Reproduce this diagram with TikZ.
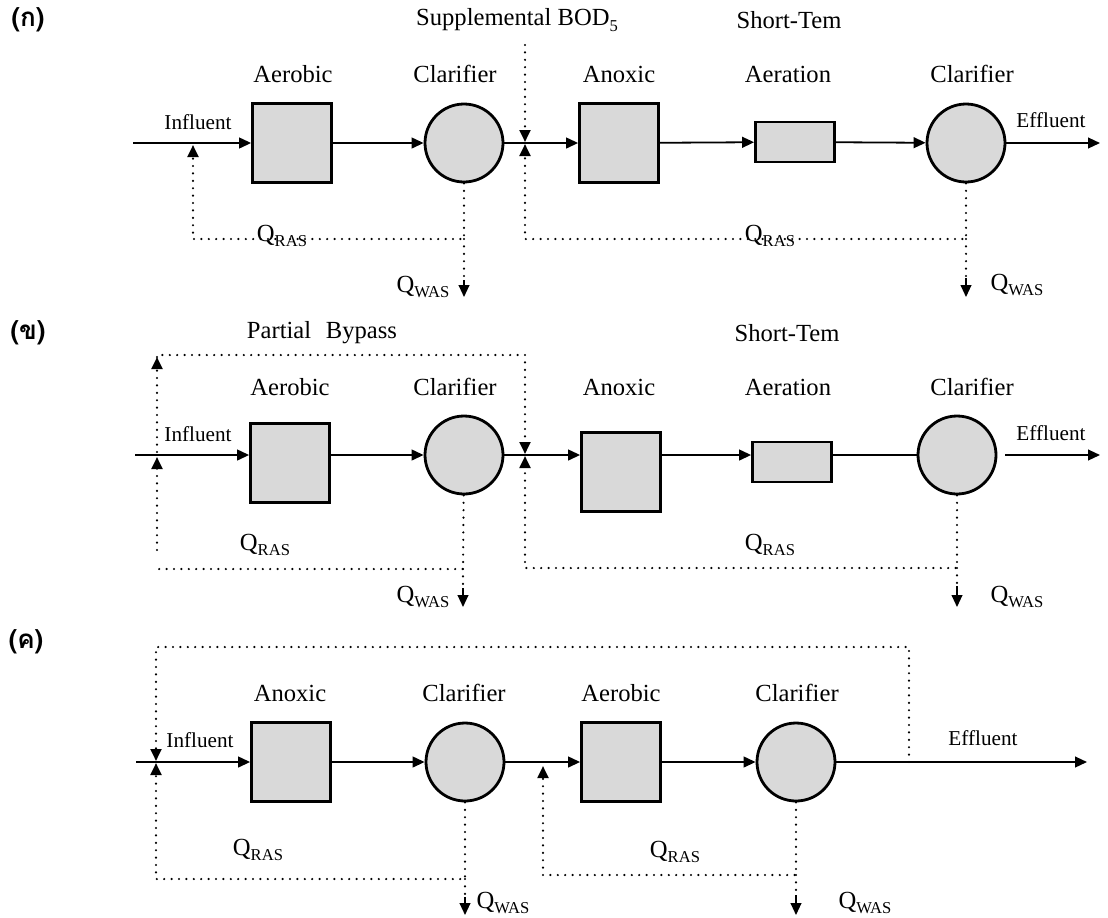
\documentclass[tikz,border=0pt]{standalone}
\usepackage{fontspec}
\setmainfont{Liberation Serif}
\newfontfamily\thaifont[Script=Thai]{Loma}
\usetikzlibrary{arrows.meta}
\newcommand{\qsub}[1]{Q\raisebox{-0.5ex}{\fontsize{8.3}{9}\selectfont #1}}

\begin{document}
\begin{tikzpicture}[x=0.5pt,y=-0.5pt]

\tikzset{line/.style={draw,line width=0.9pt}}
\tikzset{arrow/.style={line,-{Triangle[length=6pt,width=5.4pt]}}}
\tikzset{recycle/.style={draw,line width=1.2pt,line cap=round,dash pattern=on 0pt off 3.7pt}}
\tikzset{recarrow/.style={recycle,-{Triangle[length=6pt,width=5.4pt]}}}
\tikzset{stem/.style={draw,line width=0.8pt,-{Triangle[length=6pt,width=5.4pt]}}}
\tikzset{tank/.style={draw,line width=1.4pt,fill=black!15,inner sep=0pt,minimum width=39.5pt,minimum height=39.5pt}}
\tikzset{settler/.style={tank,circle,minimum size=39pt}}
\tikzset{lbl/.style={font=\fontsize{12.3}{14}\selectfont,inner sep=0pt}}
\tikzset{flow/.style={font=\fontsize{10.6}{12}\selectfont,inner sep=0pt}}
\tikzset{tag/.style={font=\thaifont\bfseries\fontsize{13}{15}\selectfont,inner sep=0pt}}

\useasboundingbox (0,0) rectangle (1108,917);

% (a)
\node[tag] (tag) at (28,20) {(ก)};
\node[lbl] (top1) at (517,20) {Supplemental BOD\raisebox{-0.5ex}{\fontsize{8.3}{9}\selectfont 5}};
\node[lbl] (top2) at (789,20) {Short-Tem};
\node[lbl] (l1) at (293,74) {Aerobic};
\node[lbl] (l2) at (455,74) {Clarifier};
\node[lbl] (l3) at (619,74) {Anoxic};
\node[lbl] (l4) at (788,74) {Aeration};
\node[lbl] (l5) at (972,74) {Clarifier};
\node[flow] (inf) at (198,122) {Influent};
\node[flow] (eff) at (1051,120) {Effluent};

\coordinate (s) at (133,143);
\coordinate (e) at (1100,143);
\node[tank] (a1) at (292,143) {};
\node[settler] (c1) at (464,143) {};
\node[tank] (b1) at (619,143) {};
\node[tank,minimum height=20pt] (r1) at (795,142) {};
\node[settler] (c2) at (966,143) {};

\path[arrow] (s) -- (a1);
\path[arrow] (a1) -- (c1);
\path[arrow] (c1) -- (b1);
\path[arrow] (b1) -- (r1);
\path[arrow] (r1) -- (c2);
\path[arrow] (c2) -- (e);

\coordinate (jt) at (525,45);
\coordinate (ja) at (525,142);
\coordinate (jb) at (525,239);
\coordinate (jc) at (525,144);
\path[recarrow] (jt) -- (ja);

\coordinate (k1) at (464,239);
\coordinate (k2) at (193,239);
\coordinate (k3) at (193,145);
\path[recarrow] (c1) -- (k1) -- (k2) -- (k3);
\coordinate (w1) at (464,280);
\coordinate (w2) at (464,297);
\path[recycle] (k1) -- (w1);
\path[stem] (w1) -- (w2);

\coordinate (k4) at (966,239);
\path[recarrow] (c2) -- (k4) -- (jb) -- (jc);
\coordinate (w3) at (966,278);
\coordinate (w4) at (966,297);
\path[recycle] (k4) -- (w3);
\path[stem] (w3) -- (w4);

\node[lbl] (q1) at (282,236) {\qsub{RAS}};
\node[lbl] (q2) at (770,236) {\qsub{RAS}};
\node[lbl] (q3) at (423,287) {\qsub{WAS}};
\node[lbl] (q4) at (1017,285) {\qsub{WAS}};

% (b)
\node[tag] (tag) at (28,333) {(ข)};
\node[lbl] (top1) at (322,333) {Partial\hspace{0.6em}Bypass};
\node[lbl] (top2) at (787,333) {Short-Tem};
\node[lbl] (l1) at (290,387) {Aerobic};
\node[lbl] (l2) at (455,387) {Clarifier};
\node[lbl] (l3) at (619,387) {Anoxic};
\node[lbl] (l4) at (788,387) {Aeration};
\node[lbl] (l5) at (972,387) {Clarifier};
\node[flow] (inf) at (198,434) {Influent};
\node[flow] (eff) at (1051,433) {Effluent};

\coordinate (s) at (135,455);
\coordinate (e0) at (1005,455);
\coordinate (e) at (1100,455);
\node[tank] (a1) at (290,463) {};
\node[settler] (c1) at (464,455) {};
\node[tank] (b1) at (621,472) {};
\node[tank,minimum height=20pt] (r1) at (792,462) {};
\node[settler] (c2) at (957,455) {};

\path[arrow] (s) -- (s -| a1.west);
\path[arrow] (s -| a1.east) -- (c1);
\path[arrow] (c1) -- (s -| b1.west);
\path[arrow] (s -| b1.east) -- (s -| r1.west);
\path[line] (s -| r1.east) -- (c2);
\path[arrow] (e0) -- (e);

\coordinate (p1) at (157,452);
\coordinate (p2) at (157,357);
\coordinate (p3) at (525,355);
\coordinate (ja) at (525,454);
\path[recarrow] (p1) -- (p2);
\path[recarrow] (p2) |- (p3) -- (ja);

\coordinate (k1) at (463,569);
\coordinate (k2) at (157,569);
\coordinate (k2b) at (157,550);
\coordinate (k3) at (157,457);
\path[recycle] (c1) -- (k1) -- (k2);
\path[recarrow] (k2b) -- (k3);
\coordinate (w1) at (463,588);
\coordinate (w2) at (463,607);
\path[recycle] (k1) -- (w1);
\path[stem] (w1) -- (w2);

\coordinate (k4) at (957,568);
\coordinate (jb) at (525,568);
\coordinate (jc) at (525,456);
\path[recarrow] (c2) -- (k4) -- (jb) -- (jc);
\coordinate (w3) at (957,586);
\coordinate (w4) at (957,607);
\path[recycle] (k4) -- (w3);
\path[stem] (w3) -- (w4);

\node[lbl] (q1) at (265,545) {\qsub{RAS}};
\node[lbl] (q2) at (770,545) {\qsub{RAS}};
\node[lbl] (q3) at (423,597) {\qsub{WAS}};
\node[lbl] (q4) at (1017,597) {\qsub{WAS}};

% (c)
\node[tag] (tag) at (26,642) {(ค)};
\node[lbl] (l1) at (290,693) {Anoxic};
\node[lbl] (l2) at (464,693) {Clarifier};
\node[lbl] (l3) at (621,693) {Aerobic};
\node[lbl] (l4) at (797,693) {Clarifier};
\node[flow] (inf) at (200,740) {Influent};
\node[flow] (eff) at (983,738) {Effluent};

\coordinate (s) at (136,762);
\coordinate (e) at (1087,762);
\node[tank] (a1) at (291,762) {};
\node[settler] (c1) at (465,762) {};
\node[tank] (b1) at (621,762) {};
\node[settler] (c2) at (796,762) {};

\path[arrow] (s) -- (a1);
\path[arrow] (a1) -- (c1);
\path[arrow] (c1) -- (b1);
\path[arrow] (b1) -- (c2);
\path[arrow] (c2) -- (e);

\coordinate (m1) at (909,762);
\coordinate (m2) at (909,647);
\coordinate (m3) at (156,647);
\coordinate (i1) at (156,761);
\path[recarrow] (m1) -- (m2) -- (m3) -- (i1);

\coordinate (k1) at (465,879);
\coordinate (k2) at (156,879);
\coordinate (i2) at (156,763);
\path[recarrow] (c1) -- (k1) -- (k2) -- (i2);
\coordinate (w1) at (465,897);
\coordinate (w2) at (465,915);
\path[recycle] (k1) -- (w1);
\path[stem] (w1) -- (w2);

\coordinate (k4) at (796,875);
\coordinate (k5) at (543,875);
\coordinate (i3) at (543,766);
\path[recarrow] (c2) -- (k4) -- (k5) -- (i3);
\coordinate (w3) at (796,895);
\coordinate (w4) at (796,915);
\path[recycle] (k4) -- (w3);
\path[stem] (w3) -- (w4);

\node[lbl] (q1) at (258,850) {\qsub{RAS}};
\node[lbl] (q2) at (675,852) {\qsub{RAS}};
\node[lbl] (q3) at (503,903) {\qsub{WAS}};
\node[lbl] (q4) at (865,903) {\qsub{WAS}};

\end{tikzpicture}
\end{document}
